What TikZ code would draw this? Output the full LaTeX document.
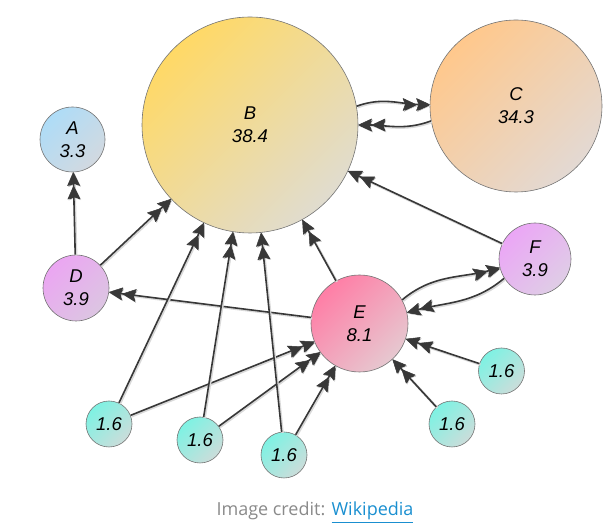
\documentclass[tikz,border=0pt]{standalone}
\usepackage{fontspec}
\usetikzlibrary{arrows.meta}
\newfontfamily\labfont{Liberation Sans}
\newfontfamily\capfont{Open Sans}
\definecolor{Bc1}{HTML}{FFD966}\definecolor{Bc2}{HTML}{E0DCCF}
\definecolor{Cc1}{HTML}{FFC88C}\definecolor{Cc2}{HTML}{E3D9D3}
\definecolor{Ac1}{HTML}{AEDCF7}\definecolor{Ac2}{HTML}{D2D9E0}
\definecolor{Dc1}{HTML}{EBA6F2}\definecolor{Dc2}{HTML}{DCC5E2}
\definecolor{Ec1}{HTML}{FF7EA6}\definecolor{Ec2}{HTML}{E6C8D0}
\definecolor{Fc1}{HTML}{EBA6F6}\definecolor{Fc2}{HTML}{DFCDE6}
\definecolor{Sc1}{HTML}{7EF2E3}\definecolor{Sc2}{HTML}{CBDDDA}
\definecolor{edgecol}{HTML}{383838}
\definecolor{capgray}{HTML}{8A8A8A}
\definecolor{capblue}{HTML}{1A8FD0}
\tikzset{
  pnode/.style n args={3}{circle, inner sep=0pt, minimum size=#1,
    draw=black!55, line width=0.6pt,
    top color=#2, bottom color=#3, shading angle=45,
    align=center, font=\labfont\itshape\fontsize{18.5}{23}\selectfont},
  ptip/.tip={Stealth[length=14pt,width=13pt,inset=2.5pt,line width=0.5pt,round]},
  pedge/.style={draw=edgecol, line width=1.6pt, -{ptip[fill=edgecol] ptip[fill=edgecol]},
    preaction={draw=black!15, line width=2.4pt, transform canvas={shift={(1pt,-1pt)}}}},
}
\begin{document}
\begin{tikzpicture}[x=1pt,y=1pt]
\useasboundingbox (0,0) rectangle (611,532);
\node[pnode={216pt}{Bc1}{Bc2}] (B) at (250,407) {B\\38.4};
\node[pnode={172pt}{Cc1}{Cc2}] (C) at (516,426) {C\\34.3};
\node[pnode={65pt}{Ac1}{Ac2}] (A) at (72.5,392.5) {A\\3.3};
\node[pnode={66pt}{Dc1}{Dc2}] (D) at (76,244) {D\\3.9};
\node[pnode={97pt}{Ec1}{Ec2}] (E) at (359.5,208.5) {E\\8.1};
\node[pnode={72pt}{Fc1}{Fc2}] (F) at (535,273) {F\\3.9};
\node[pnode={46pt}{Sc1}{Sc2}] (s1) at (109,108) {1.6};
\node[pnode={46pt}{Sc1}{Sc2}] (s2) at (200,92) {1.6};
\node[pnode={46pt}{Sc1}{Sc2}] (s3) at (284,77) {1.6};
\node[pnode={46pt}{Sc1}{Sc2}] (s4) at (501.5,161) {1.6};
\node[pnode={46pt}{Sc1}{Sc2}] (s5) at (452,108) {1.6};
\draw[pedge] (D) -- (A);
\draw[pedge] (D) -- (B);
\draw[pedge] (E) -- (D);
\draw[pedge] (E) -- (B);
\draw[pedge] (F) -- (B);
\draw[pedge] (B.10) to[out=20,in=180] (C.179);
\draw[pedge] (C.190) to[out=200,in=0] (B.0);
\draw[pedge] (E.29) to[out=40,in=195] (F.194);
\draw[pedge] (F.212) to[out=220,in=15] (E.13);
\draw[pedge] (s1) -- (B);
\draw[pedge] (s1) -- (E);
\draw[pedge] (s2) -- (B);
\draw[pedge] (s2) -- (E);
\draw[pedge] (s3) -- (B);
\draw[pedge] (s3) -- (E);
\draw[pedge] (s4) -- (E);
\draw[pedge] (s5) -- (E);
\node[anchor=base, inner sep=0pt, font=\capfont\fontsize{18}{21}\selectfont] (cap) at (315,16)
  {\textcolor{capgray}{Image credit:} \textcolor{capblue}{\underline{Wikipedia}}};
\end{tikzpicture}
\end{document}
